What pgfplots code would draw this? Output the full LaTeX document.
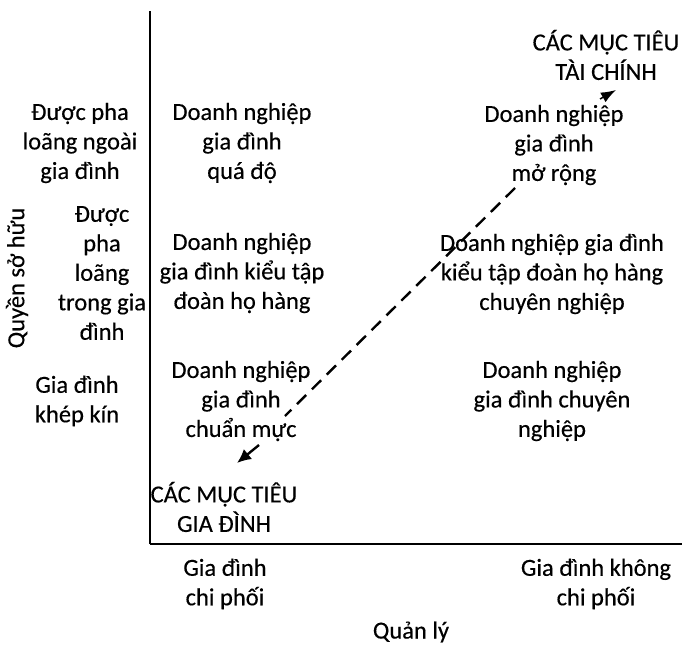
\documentclass[border=0pt]{standalone}
\usepackage{fontspec}
\setmainfont{Carlito}[FakeBold=0.35]
\usepackage{pgfplots}
\pgfplotsset{compat=1.18}
\usetikzlibrary{arrows.meta}
\newcommand{\fs}{\fontsize{24.5}{29.5}\selectfont}
\tikzset{lab/.style={font=\fs, align=center, inner sep=0pt}}
\begin{document}
\begin{tikzpicture}
\begin{axis}[
  scale only axis, width=532pt, height=533pt,
  xmin=150, xmax=682, ymin=-544, ymax=-11,
  axis x line=bottom, axis y line=left,
  axis line style={-, line width=1.4pt},
  xtick=\empty, ytick=\empty,
  clip=false,
]
\path (axis cs:0,-659) rectangle (axis cs:684,0);
% dashed trajectory
\addplot[black, line width=2.4pt, dash pattern=on 13pt off 8pt] coordinates {(515,-188) (285,-416)};
\addplot[black, line width=2.4pt, -{Latex[length=14pt,width=13pt]}] coordinates {(259,-445) (237,-463)};
\addplot[black, line width=1.5pt, -{Latex[length=15pt,width=11pt]}] coordinates {(600,-99) (616,-90)};
% left column labels
\node[lab] at (axis cs:80,-143) {Được pha\\loãng ngoài\\gia đình};
\node[lab] at (axis cs:102,-273) {Được\\pha\\loãng\\trong gia\\đình};
\node[lab] at (axis cs:77,-401) {Gia đình\\khép kín};
\node[lab,rotate=90] at (axis cs:17,-278) {Quyền sở hữu};
% left quadrant
\node[lab] at (axis cs:242,-143) {Doanh nghiệp\\gia đình\\quá độ};
\node[lab] at (axis cs:242,-273) {Doanh nghiệp\\gia đình kiểu tập\\đoàn họ hàng};
\node[lab] at (axis cs:241,-401) {Doanh nghiệp\\gia đình\\chuẩn mực};
\node[lab] at (axis cs:224,-507) {CÁC MỤC TIÊU\\GIA ĐÌNH};
% right quadrant
\node[lab] at (axis cs:606,-55) {CÁC MỤC TIÊU\\TÀI CHÍNH};
\node[lab] at (axis cs:554,-145) {Doanh nghiệp\\gia đình\\mở rộng};
\node[lab] at (axis cs:552,-274) {Doanh nghiệp gia đình\\kiểu tập đoàn họ hàng\\chuyên nghiệp};
\node[lab] at (axis cs:552,-401) {Doanh nghiệp\\gia đình chuyên\\nghiệp};
% bottom labels
\node[lab] at (axis cs:225,-584) {Gia đình\\chi phối};
\node[lab] at (axis cs:596,-584) {Gia đình không\\chi phối};
\node[lab] at (axis cs:411,-632) {Quản lý};
\end{axis}
\end{tikzpicture}
\end{document}
